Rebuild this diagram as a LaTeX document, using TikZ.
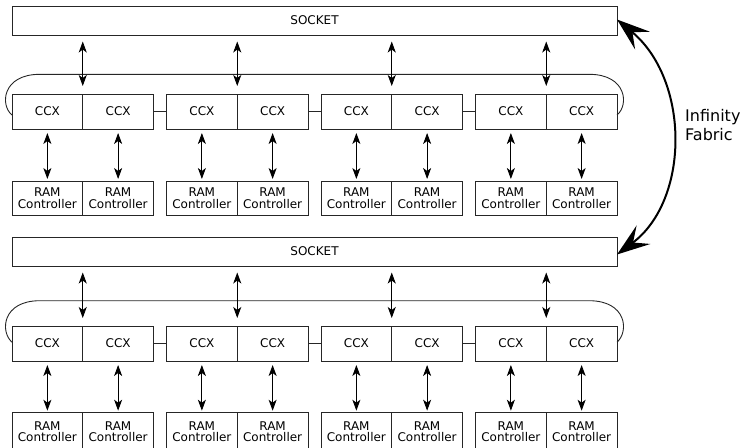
\documentclass[tikz,border=0pt]{standalone}
\usepackage{fontspec}
\setmainfont{DejaVu Sans}
\usetikzlibrary{arrows.meta}

\tikzset{
  boxline/.style={draw=black!85, line width=0.9pt},
  cell/.style={boxline, rectangle, inner sep=0pt, outer sep=0pt,
    minimum width=70.75pt, minimum height=35pt, anchor=north west,
    font=\fontsize{12}{11.5}\selectfont, align=center},
  sockbox/.style={boxline, rectangle, inner sep=0pt, outer sep=0pt,
    minimum width=605pt, minimum height=29pt, anchor=north west,
    font=\fontsize{12}{14}\selectfont},
  biarrow/.style={line width=0.9pt,
    {Stealth[length=11pt,width=8pt,inset=3pt]}-{Stealth[length=11pt,width=8pt,inset=3pt]}},
  ring/.style={boxline},
  fabric/.style={line width=2pt,
    {Stealth[length=33pt,width=23pt,inset=13pt]}-{Stealth[length=33pt,width=23pt,inset=13pt]}},
}

\begin{document}
\begin{tikzpicture}[x=1pt,y=-1pt]
\useasboundingbox (0,0) rectangle (744,447);

% two identical socket blocks:
% name / socket top / CCX top / ring level / RAM top / RAM height / ring end offset
\foreach \b/\sy/\cy/\ly/\ry/\rh/\es in {A/6/94/74.3/181/34/-3.5, B/237/326/300.7/412.7/38/1.3} {
  \node[sockbox] (sock\b) at (12,\sy) {SOCKET};
  \foreach \g/\gx in {1/12, 2/166.5, 3/321, 4/475.5} {
    \node[cell] (ccx-\b-\g-a) at (\gx,\cy) {CCX};
    \node[cell] (ccx-\b-\g-b) at (ccx-\b-\g-a.north east) {CCX};
    \node[cell, minimum height=\rh pt] (ram-\b-\g-a) at (\gx,\ry) {RAM\\Controller};
    \node[cell, minimum height=\rh pt] (ram-\b-\g-b) at (ram-\b-\g-a.north east) {RAM\\Controller};
  }
  % ring bus around the CCX row
  \draw[ring] ([yshift=\es pt]ccx-\b-1-a.west) .. controls (0,\ly+31) and (2,\ly) .. (40,\ly)
     -- (589,\ly) .. controls (627,\ly) and (629,\ly+31) .. ([yshift=\es pt]ccx-\b-4-b.east);
  % links between neighbouring CCX pairs
  \foreach \g/\h in {1/2, 2/3, 3/4}
    \draw[ring] (ccx-\b-\g-b.east) -- (ccx-\b-\h-a.west);
  % socket <-> CCX pair and CCX <-> RAM controller
  \foreach \g in {1,2,3,4} {
    \draw[biarrow, shorten <=6.5pt, shorten >=8pt]
      (sock\b.south -| ccx-\b-\g-a.north east) -- (ccx-\b-\g-a.north east);
    \draw[biarrow, shorten <=4pt, shorten >=2pt] (ccx-\b-\g-a.south) -- (ram-\b-\g-a.north);
    \draw[biarrow, shorten <=4pt, shorten >=2pt] (ccx-\b-\g-b.south) -- (ram-\b-\g-b.north);
  }
}

% Infinity Fabric between the two sockets
\draw[fabric] ([yshift=1pt]sockA.east) .. controls (690,80) and (690,200) .. ([yshift=-3pt]sockB.east);
\node[anchor=base west, align=left, font=\fontsize{16}{19}\selectfont, inner sep=0pt]
  (fabriclabel) at (685,140) {Infinity\\Fabric};
\end{tikzpicture}
\end{document}
